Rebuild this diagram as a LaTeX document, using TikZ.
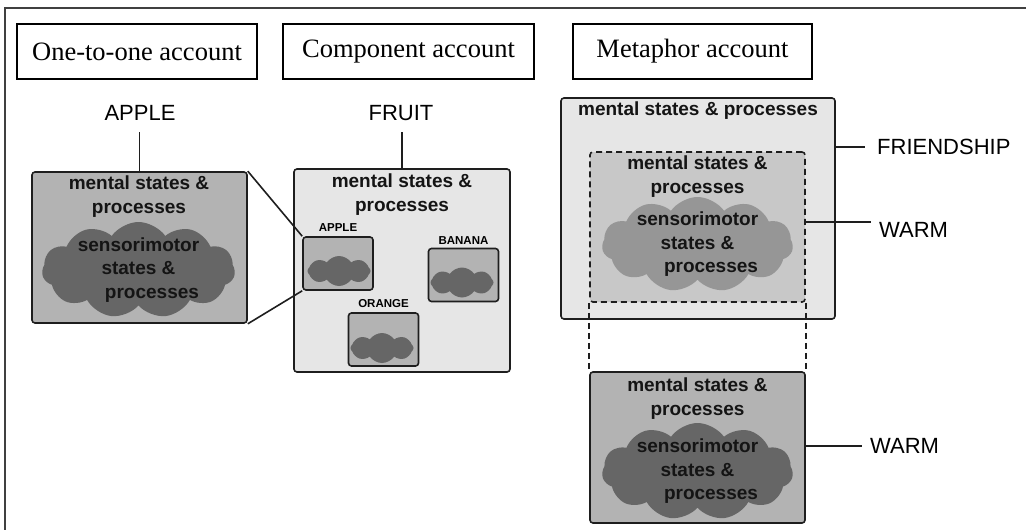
\documentclass[tikz,border=0pt]{standalone}
\usepackage{fontspec}
\setmainfont{Liberation Serif}
\setsansfont{Liberation Sans}
\usepackage{tikz}
\usetikzlibrary{shapes.symbols, positioning, calc}
\definecolor{paleframe}{RGB}{230,230,230}
\definecolor{midframe}{RGB}{179,179,179}
\definecolor{dashfill}{RGB}{200,200,200}
\definecolor{darkcloud}{RGB}{102,102,102}
\definecolor{softcloud}{RGB}{150,150,150}
\definecolor{edgedark}{RGB}{30,30,30}

\tikzset{
  titlebox/.style={draw, line width=1.4pt, minimum height=55pt, inner sep=0pt,
    font=\fontsize{26.5}{30}\selectfont},
  concept/.style={inner sep=0pt, font=\sffamily\fontsize{22}{26}\selectfont},
  mindbox/.style={draw=edgedark, line width=1.6pt, rounded corners=3pt, inner sep=0pt},
  mindtext/.style={align=center, inner sep=0pt, text=black!92,
    font=\sffamily\bfseries\fontsize{19}{23.5}\selectfont},
  smalltext/.style={inner sep=0pt, font=\sffamily\bfseries\fontsize{11.5}{13}\selectfont},
  blob/.style={cloud, cloud puffs=11, cloud puff arc=110, cloud ignores aspect,
    inner sep=0pt, fill=darkcloud},
  link/.style={line width=1.6pt, edgedark},
  dashlink/.style={line width=1.6pt, edgedark, dash pattern=on 6pt off 4pt},
}

\begin{document}
\begin{tikzpicture}[x=1pt, y=-1pt]
  \useasboundingbox (0,0) rectangle (1026,530);
  % outer frame
  \draw[line width=1.8pt, black!75] (5,8) rectangle (1040,545);

  % Titles
  \node[titlebox, minimum width=240pt] (onetoone) at (137,51.5) {One-to-one account};
  \node[titlebox, minimum width=251pt] (component) at (408.5,51.5) {Component account};
  \node[titlebox, minimum width=239pt] (metaphor) at (692.5,51.5) {Metaphor account};

  % One-to-one account
  \node[concept] (apple) at (140,113) {APPLE};
  \node[mindbox, fill=midframe, minimum width=215pt, minimum height=151pt]
    (applebox) at (139.5,247.5) {};
  \node[blob, minimum width=193pt, minimum height=96pt] (applecloud) at (138.5,270) {};
  \node[mindtext] at (139,196.5) {mental states \&\\processes};
  \node[mindtext] at (applecloud.center)
    {sensorimotor\\states \&\\\hspace*{27pt}processes};
  \draw[link, shorten >=11pt] (applebox.north) -- (applebox.north |- apple.south);

  % Component account
  \node[concept] (fruit) at (401,113) {FRUIT};
  \node[mindbox, fill=paleframe, minimum width=216pt, minimum height=203pt]
    (fruitbox) at (402,270.5) {};
  \node[mindtext] at (402,194.5) {mental states \&\\processes};
  \draw[link, shorten >=11pt] (fruitbox.north) -- (fruitbox.north |- fruit.south);
  \foreach \kind/\bx/\by/\cx/\cy/\ty in {APPLE/338/263.5/339/271/228,
      BANANA/463.5/275/462/282.5/241, ORANGE/383.5/339.5/382/348/304}{
    \node[mindbox, fill=midframe, minimum width=70pt, minimum height=53pt]
      (small-\kind) at (\bx,\by) {};
    \node[blob, cloud puffs=8, minimum width=63pt, minimum height=30pt]
      (smallcloud-\kind) at (\cx,\cy) {};
    \node[smalltext] (tag-\kind) at (\bx,\ty) {\kind};
  }
  \draw[link] (applebox.north east) -- (small-APPLE.north west);
  \draw[link] (applebox.south east) -- (small-APPLE.south west);

  % Metaphor account
  \node[mindbox, fill=paleframe, minimum width=274pt, minimum height=221pt]
    (friendbox) at (698,208.5) {};
  \node[mindtext] at (698,111) {mental states \& processes};
  \node[mindbox, dash pattern=on 6pt off 4pt, fill=dashfill,
    minimum width=215pt, minimum height=150pt] (warmtop) at (697.5,227) {};
  \node[mindtext] at (697.5,176.5) {mental states \&\\processes};
  \node[blob, fill=softcloud, minimum width=191pt, minimum height=95pt]
    (warmtopcloud) at (697.5,244.5) {};
  \node[mindtext] at (warmtopcloud.center)
    {sensorimotor\\states \&\\\hspace*{27pt}processes};

  \node[mindbox, fill=midframe, minimum width=215pt, minimum height=151pt]
    (warmbottom) at (697.5,447.5) {};
  \node[mindtext] at (697.5,398.5) {mental states \&\\processes};
  \node[blob, minimum width=191pt, minimum height=97pt]
    (warmbottomcloud) at (697.5,471.5) {};
  \node[mindtext] at (warmbottomcloud.center)
    {sensorimotor\\states \&\\\hspace*{27pt}processes};
  \draw[dashlink] (warmtop.south west) -- (warmbottom.north west);
  \draw[dashlink] (warmtop.south east) -- (warmbottom.north east);

  % Concept labels
  \node[concept, anchor=west] (friendship) at (877,147) {FRIENDSHIP};
  \draw[link] (friendbox.east |- friendship.west) -- ([xshift=-12pt]friendship.west);
  \node[concept, anchor=west] (warmup) at (879,229.5) {WARM};
  \coordinate (warmupend) at (871,222);
  \draw[link] (warmtop.east |- warmupend) -- (warmupend);
  \node[concept, anchor=west] (warmlow) at (870,446) {WARM};
  \draw[link] (warmbottom.east |- warmlow.west) -- ([xshift=-8pt]warmlow.west);
\end{tikzpicture}
\end{document}
